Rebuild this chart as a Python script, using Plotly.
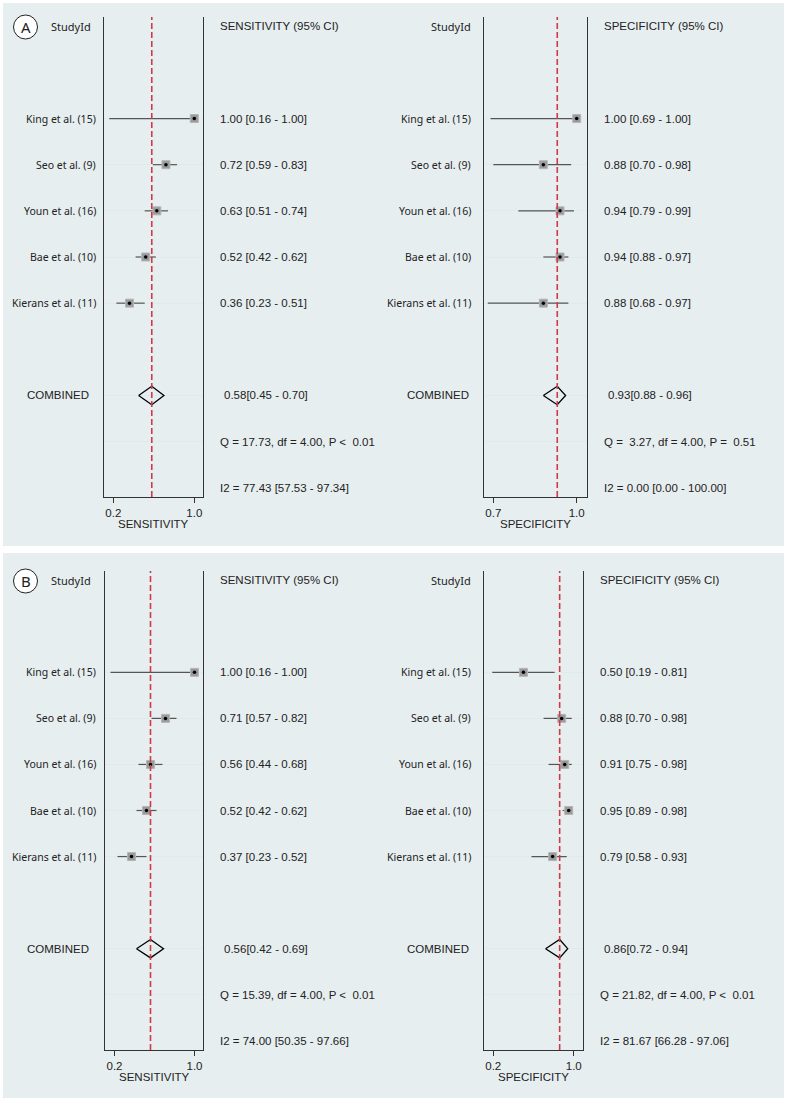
"""
Forest plots of sensitivity and specificity (panels A and B).
"""

import plotly.graph_objects as go

W, H = 787, 1101

studies = ["King et al. (15)", "Seo et al. (9)", "Youn et al. (16)",
           "Bae et al. (10)", "Kierans et al. (11)"]

# Panel A
a_sens = [1.00, 0.72, 0.63, 0.52, 0.36]
a_sens_lo = [0.16, 0.59, 0.51, 0.42, 0.23]
a_sens_hi = [1.00, 0.83, 0.74, 0.62, 0.51]
a_sens_pool = [0.58, 0.45, 0.70]
a_sens_q = "Q = 17.73, df = 4.00, P &lt;\u00a0 0.01"
a_sens_i2 = "I2 = 77.43 [57.53 - 97.34]"

a_spec = [1.00, 0.88, 0.94, 0.94, 0.88]
a_spec_lo = [0.69, 0.70, 0.79, 0.88, 0.68]
a_spec_hi = [1.00, 0.98, 0.99, 0.97, 0.97]
a_spec_pool = [0.93, 0.88, 0.96]
a_spec_q = "Q =\u00a0 3.27, df = 4.00, P =\u00a0 0.51"
a_spec_i2 = "I2 = 0.00 [0.00 - 100.00]"

# Panel B
b_sens = [1.00, 0.71, 0.56, 0.52, 0.37]
b_sens_lo = [0.16, 0.57, 0.44, 0.42, 0.23]
b_sens_hi = [1.00, 0.82, 0.68, 0.62, 0.52]
b_sens_pool = [0.56, 0.42, 0.69]
b_sens_q = "Q = 15.39, df = 4.00, P &lt;\u00a0 0.01"
b_sens_i2 = "I2 = 74.00 [50.35 - 97.66]"

b_spec = [0.50, 0.88, 0.91, 0.95, 0.79]
b_spec_lo = [0.19, 0.70, 0.75, 0.89, 0.58]
b_spec_hi = [0.81, 0.98, 0.98, 0.98, 0.93]
b_spec_pool = [0.86, 0.72, 0.94]
b_spec_q = "Q = 21.82, df = 4.00, P &lt;\u00a0 0.01"
b_spec_i2 = "I2 = 81.67 [66.28 - 97.06]"

study_rows = [2, 3, 4, 5, 6]
pool_row, q_row, i2_row = 8, 9, 10
grid_rows = study_rows + [pool_row, q_row]

BG = '#e7eef0'
TXT = '#222222'
LINE = '#333333'
ARIAL = 'Liberation Sans, Arial, sans-serif'
NOTO = 'Noto Sans, sans-serif'


def px(x):
    return x / W


def py(y):
    return 1 - y / H


panels = [
    dict(n=1, est=a_sens, lo=a_sens_lo, hi=a_sens_hi, pool=a_sens_pool,
         q=a_sens_q, i2=a_sens_i2, name='SENSITIVITY',
         box=(104, 203, 17, 497), xr=[0.108, 1.086], ticks=[0.2, 1.0],
         lab_r=98, sid=49, comb=25),
    dict(n=2, est=a_spec, lo=a_spec_lo, hi=a_spec_hi, pool=a_spec_pool,
         q=a_spec_q, i2=a_spec_i2, name='SPECIFICITY',
         box=(484, 587, 17, 497), xr=[0.6665, 1.037], ticks=[0.7, 1.0],
         lab_r=473, sid=429, comb=405),
    dict(n=3, est=b_sens, lo=b_sens_lo, hi=b_sens_hi, pool=b_sens_pool,
         q=b_sens_q, i2=b_sens_i2, name='SENSITIVITY',
         box=(105, 203, 571, 1050), xr=[0.105, 1.085], ticks=[0.2, 1.0],
         lab_r=98, sid=49, comb=25),
    dict(n=4, est=b_spec, lo=b_spec_lo, hi=b_spec_hi, pool=b_spec_pool,
         q=b_spec_q, i2=b_spec_i2, name='SPECIFICITY',
         box=(484, 583, 571, 1050), xr=[0.108, 1.092], ticks=[0.2, 1.0],
         lab_r=473, sid=429, comb=405),
]

fig = go.Figure()
annotations = []
shapes = []

# panel backgrounds
for y0, y1 in [(3, 546), (553, 1098)]:
    shapes.append(dict(type='rect', xref='paper', yref='paper', layer='below',
                       x0=px(3), x1=px(784), y0=py(y1), y1=py(y0),
                       fillcolor=BG, line=dict(width=0)))

# circled panel letters
for letter, cy in [('A', 27), ('B', 581)]:
    shapes.append(dict(type='circle', xref='paper', yref='paper',
                       x0=px(13.5), x1=px(37.5), y0=py(cy + 12), y1=py(cy - 12),
                       fillcolor='white', line=dict(color=TXT, width=1)))
    annotations.append(dict(text=letter, xref='paper', yref='paper',
                            x=px(25.5), y=py(cy), showarrow=False,
                            xanchor='center', yanchor='middle',
                            font=dict(family=NOTO, size=15, color=TXT)))

for p in panels:
    n = p['n']
    sfx = '' if n == 1 else str(n)
    xa, ya = 'x' + sfx, 'y' + sfx
    x0, x1, y0, y1 = p['box']

    fig.layout['xaxis' + sfx] = dict(
        domain=[px(x0), px(x1)], anchor=ya, range=p['xr'],
        tickvals=p['ticks'], ticktext=[f'{t:.1f}' for t in p['ticks']],
        ticks='outside', ticklen=5, tickwidth=1, tickcolor=LINE,
        showline=True, linecolor=LINE, linewidth=1.3, showgrid=False,
        zeroline=False, tickfont=dict(family=ARIAL, size=11.5, color=TXT))
    fig.layout['yaxis' + sfx] = dict(
        domain=[py(y1), py(y0)], anchor=xa, range=[10.2, -0.2],
        tickvals=grid_rows, showticklabels=False, ticks='',
        showgrid=True, gridcolor='#e0eaec', gridwidth=1,
        showline=True, mirror=True, linecolor=LINE, linewidth=1.3,
        zeroline=False)

    # red dashed line at pooled estimate
    shapes.append(dict(type='line', xref=xa, yref=ya + ' domain',
                       x0=p['pool'][0], x1=p['pool'][0], y0=0, y1=1,
                       line=dict(color='#cf3a48', width=1.6, dash='6px,3px')))

    # CI lines
    cx, cy = [], []
    for lo, hi, r in zip(p['lo'], p['hi'], study_rows):
        cx += [lo, hi, None]
        cy += [r, r, None]
    fig.add_trace(go.Scatter(x=cx, y=cy, xaxis=xa, yaxis=ya, mode='lines',
                             line=dict(color='#555555', width=1.2),
                             showlegend=False, hoverinfo='skip'))
    # study boxes and centre dots
    fig.add_trace(go.Scatter(x=p['est'], y=study_rows, xaxis=xa, yaxis=ya,
                             mode='markers', showlegend=False,
                             marker=dict(symbol='square', size=8, color='#9a9a9a',
                                         line=dict(color='#b5b5b5', width=1))))
    fig.add_trace(go.Scatter(x=p['est'], y=study_rows, xaxis=xa, yaxis=ya,
                             mode='markers', showlegend=False, hoverinfo='skip',
                             marker=dict(symbol='circle', size=3.5, color='black')))
    # pooled diamond
    est, lo, hi = p['pool']
    h = 0.2
    fig.add_trace(go.Scatter(x=[lo, est, hi, est, lo],
                             y=[pool_row, pool_row - h, pool_row, pool_row + h, pool_row],
                             xaxis=xa, yaxis=ya, mode='lines', showlegend=False,
                             line=dict(color='black', width=1.3)))

    # text columns
    def note(text, x, row, anchor='left', family=ARIAL, size=11.5):
        annotations.append(dict(text=text, xref='paper', yref=ya, x=px(x), y=row,
                                xanchor=anchor, yanchor='middle', showarrow=False,
                                font=dict(family=family, size=size, color=TXT)))

    vx = x1 + 15
    note('StudyId', p['sid'], 0, family=NOTO, size=11)
    note(f"{p['name']} (95% CI)", vx, 0)
    for name, e, l, u, r in zip(studies, p['est'], p['lo'], p['hi'], study_rows):
        note(name, p['lab_r'], r, anchor='right', family=NOTO, size=10.5)
        note(f'{e:.2f} [{l:.2f} - {u:.2f}]', vx, r)
    note('COMBINED', p['comb'], pool_row)
    note(f'{est:.2f}[{lo:.2f} - {hi:.2f}]', vx + 4, pool_row)
    note(p['q'], vx, q_row)
    note(p['i2'], vx, i2_row)

    # x-axis title
    annotations.append(dict(text=p['name'], xref='paper', yref='paper',
                            x=px((x0 + x1) / 2), y=py(y1 + 27), showarrow=False,
                            xanchor='center', yanchor='middle',
                            font=dict(family=ARIAL, size=11.5, color=TXT)))

fig.update_layout(
    width=W, height=H,
    margin=dict(l=0, r=0, t=0, b=0),
    paper_bgcolor='white',
    plot_bgcolor='white',
    showlegend=False,
    shapes=shapes,
    annotations=annotations,
)

fig.write_html("out.html", config={'displayModeBar': False},
               post_script="document.body.style.margin='0';")
